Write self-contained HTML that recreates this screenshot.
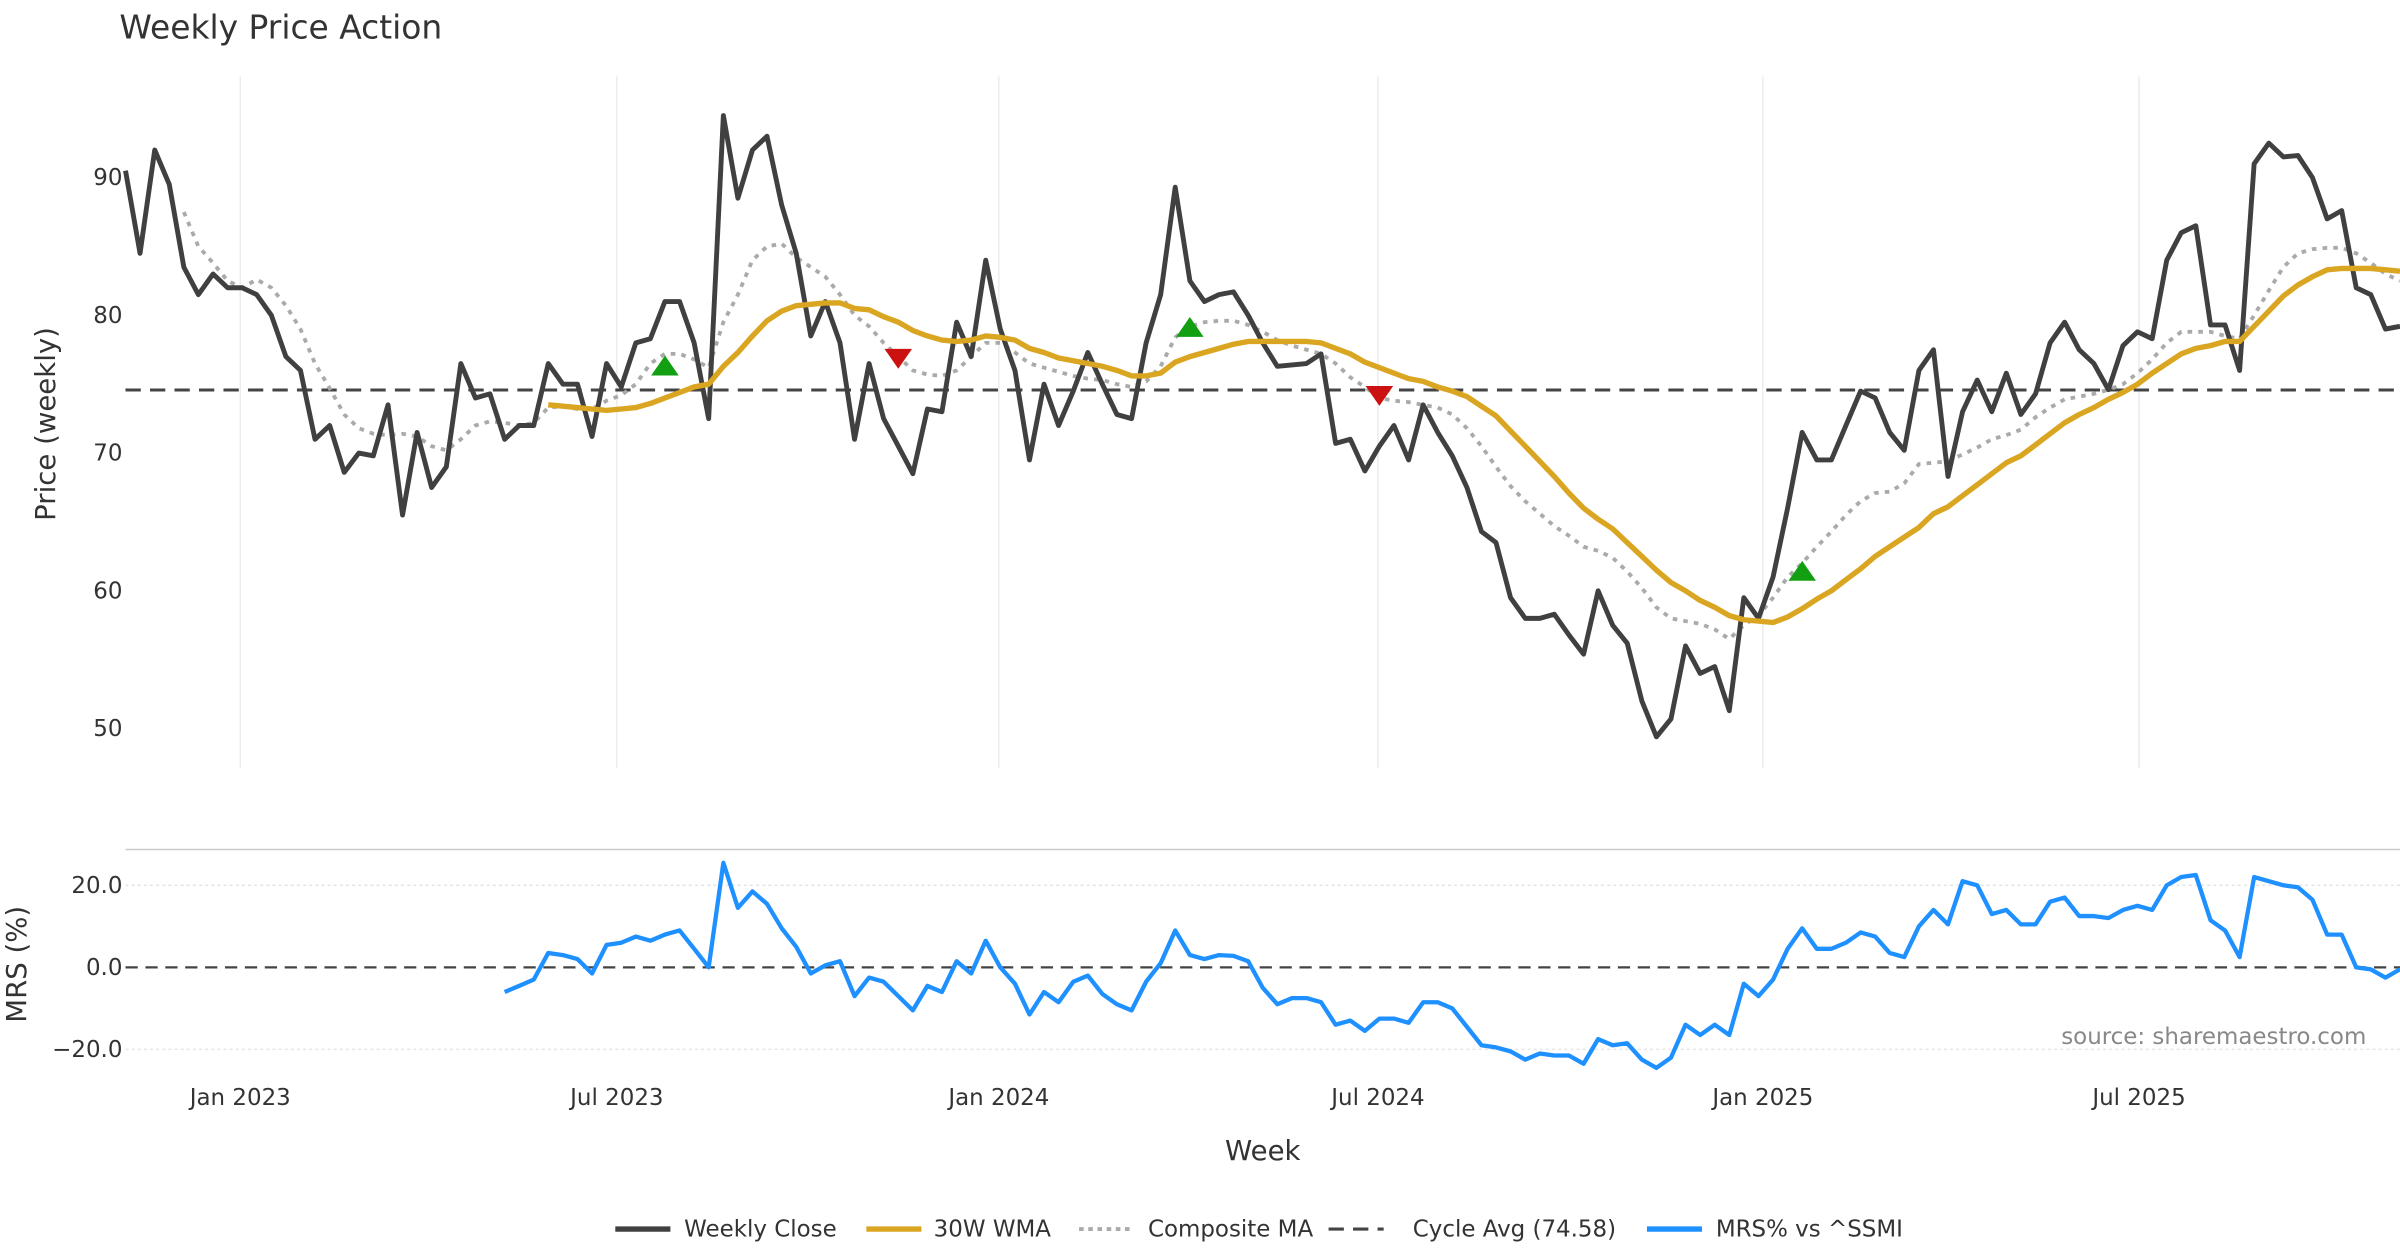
<!DOCTYPE html>
<html><head><meta charset="utf-8"><style>
html,body{margin:0;padding:0;background:#fff;}
svg{display:block;font-family:"DejaVu Sans","Liberation Sans",sans-serif;}
</style></head><body>
<svg id="chart" width="2400" height="1260" viewBox="0 0 1568 823.2" xmlns="http://www.w3.org/2000/svg">
<rect width="1568" height="823.2" fill="#fff"/>
<text x="78" y="25" font-size="21.5" fill="#333">Weekly Price Action</text>
<g id="grid"></g>
<g id="series"></g>
<g id="axes"></g>
<text transform="translate(36,277) rotate(-90)" text-anchor="middle" font-size="18" fill="#333">Price (weekly)</text>
<text transform="translate(17,630) rotate(-90)" text-anchor="middle" font-size="18" fill="#333">MRS (%)</text>
<text x="825" y="758" text-anchor="middle" font-size="18" fill="#333">Week</text>
<text x="1546" y="682" text-anchor="end" font-size="15" fill="#888">source: sharemaestro.com</text>
<g font-size="15" fill="#333">
 <g><line x1="402" y1="803" x2="438" y2="803" stroke="#404040" stroke-width="3.5"/><text x="447" y="808">Weekly Close</text></g>
 <g><line x1="566" y1="803" x2="602" y2="803" stroke="#DAA520" stroke-width="3.5"/><text x="610" y="808">30W WMA</text></g>
 <g><line x1="705" y1="803" x2="741" y2="803" stroke="#aaa" stroke-width="2.5" stroke-dasharray="3,3"/><text x="750" y="808">Composite MA</text></g>
 <g><line x1="868" y1="803" x2="904" y2="803" stroke="#444" stroke-width="2" stroke-dasharray="10,6"/><text x="923" y="808">Cycle Avg (74.58)</text></g>
 <g><line x1="1076" y1="803" x2="1112" y2="803" stroke="#1E90FF" stroke-width="3.5"/><text x="1121" y="808">MRS% vs ^SSMI</text></g>
</g>
</svg>
<script>
const closeVals=[90.5,84.5,92,89.5,83.5,81.5,83,82,82,81.5,80,77,76,71,72,68.6,70,69.8,73.5,65.5,71.5,67.5,69,76.5,74,74.3,71,72,72,76.5,75,75,71.2,76.5,74.8,78,78.3,81,81,78,72.5,94.5,88.5,92,93,88,84.5,78.5,81,78,71,76.5,72.5,70.5,68.5,73.2,73,79.5,77,84,79,76,69.5,75,72,74.5,77.3,75,72.8,72.5,78,81.5,89.3,82.5,81,81.5,81.7,80,78,76.3,76.4,76.5,77.2,70.7,71,68.7,70.5,72,69.5,73.5,71.5,69.8,67.5,64.3,63.5,59.5,58,58,58.3,56.8,55.4,60,57.5,56.2,52,49.4,50.7,56,54,54.5,51.3,59.5,58,61,66,71.5,69.5,69.5,72,74.5,74,71.5,70.2,76,77.5,68.3,73,75.3,73,75.8,72.8,74.3,78,79.5,77.5,76.5,74.6,77.8,78.8,78.3,84,86,86.5,79.3,79.3,76,91,92.5,91.5,91.6,90,87,87.6,82,81.5,79,79.2];
const wmaStart=29;
const wmaVals=[73.5,73.4,73.3,73.2,73.1,73.2,73.3,73.6,74,74.4,74.8,75,76.3,77.3,78.5,79.6,80.3,80.7,80.8,80.9,80.9,80.5,80.4,79.9,79.5,78.9,78.5,78.2,78.1,78.2,78.5,78.4,78.2,77.6,77.3,76.9,76.7,76.5,76.3,76,75.6,75.6,75.8,76.6,77,77.3,77.6,77.9,78.1,78.1,78.1,78.1,78.1,78,77.6,77.2,76.6,76.2,75.8,75.4,75.2,74.8,74.5,74.1,73.4,72.7,71.6,70.5,69.4,68.3,67.1,66,65.2,64.5,63.5,62.5,61.5,60.6,60,59.3,58.8,58.2,57.9,57.8,57.7,58.1,58.7,59.4,60,60.8,61.6,62.5,63.2,63.9,64.6,65.6,66.1,66.9,67.7,68.5,69.3,69.8,70.6,71.4,72.2,72.8,73.3,73.9,74.4,75,75.8,76.5,77.2,77.6,77.8,78.1,78.1,79.2,80.3,81.4,82.2,82.8,83.3,83.4,83.4,83.4,83.3,83.2];
const compStart=4;
const compVals=[87.5,85,83.8,82.5,82,82.6,82,80.7,79,76.5,74.7,72.8,71.8,71.4,71.3,71.4,71.2,70.5,70.2,71,72,72.3,72.2,72,72.2,73.3,73.4,73.2,73.2,73.8,74.2,75,76.5,77.2,77.2,76.8,76.2,79.5,81.5,84,85,85.2,84.2,83.5,82.8,81.5,80,79.2,78,77,76,75.7,75.6,76,77,78,78,77.3,76.5,76.2,75.9,75.6,75.4,75.3,75,74.8,75.2,76.3,78.4,79.2,79.5,79.6,79.6,79.3,78.8,78.2,77.8,77.5,77.2,76.5,75.5,74.8,74,73.8,73.7,73.5,73.3,72.8,71.8,70.5,69,67.6,66.5,65.6,64.7,64,63.2,62.9,62.4,61.4,60.2,58.8,58,57.8,57.6,57.2,56.5,57.5,58.2,59.5,61,62,63.2,64.3,65.5,66.5,67.1,67.2,67.8,69.2,69.3,69.4,69.9,70.4,71,71.3,71.7,72.6,73.3,73.9,74.1,74.3,74.6,75,75.8,76.8,78,78.8,78.8,78.8,78.5,78.3,80,81.8,83.5,84.5,84.8,84.9,84.9,84.5,83.8,83,82.5];
const mrsStart=26;
const mrsVals=[-6,-4.5,-3,3.5,3,2,-1.5,5.5,6,7.5,6.5,8,9,4.5,0,25.5,14.5,18.5,15.5,9.5,5,-1.5,0.5,1.5,-7,-2.5,-3.5,-7,-10.5,-4.5,-6,1.5,-1.5,6.5,0,-4,-11.5,-6,-8.5,-3.5,-2,-6.5,-9,-10.5,-3.5,1,9,3,2,3,2.8,1.5,-5,-9,-7.5,-7.5,-8.5,-14,-13,-15.5,-12.5,-12.5,-13.5,-8.5,-8.5,-10,-14.5,-19,-19.5,-20.5,-22.5,-21,-21.5,-21.5,-23.5,-17.5,-19,-18.5,-22.5,-24.5,-22,-14,-16.5,-14,-16.5,-4,-7,-3,4.5,9.5,4.5,4.5,6,8.5,7.5,3.5,2.5,10,14,10.5,21,20,13,14,10.5,10.5,16,17,12.5,12.5,12,14,15,14,20,22,22.5,11.5,9,2.5,22,21,20,19.5,16.5,8,8,0,-0.5,-2.5,-0.5];
const cycleAvg=74.58;
const markerIdx=[37,53,73,86,115];
const markerVals=[76.3,76.9,79.1,74.2,61.4];
const markerTypes=['buy','sell','buy','sell','buy'];
const xTickIdx=[7.87,33.7,59.9,85.9,112.3,138.1];
const xTickLabels=['Jan 2023','Jul 2023','Jan 2024','Jul 2024','Jan 2025','Jul 2025'];
const yTicks=[50,60,70,80,90];
const mrsTicks=[-20,0,20];

const NS='http://www.w3.org/2000/svg';
const X0=82,X1=1568,N=closeVals.length;
const xs=i=>X0+i*(X1-X0)/(N-1);
const ys=v=>116+(90-v)*9;
const ym=v=>632-v*2.68;
function mk(tag,attrs,parent){const e=document.createElementNS(NS,tag);for(const k in attrs)e.setAttribute(k,attrs[k]);parent.appendChild(e);return e;}
const grid=document.getElementById('grid'),ser=document.getElementById('series'),ax=document.getElementById('axes');
xTickIdx.forEach((t,i)=>{
  const g=mk('line',{x1:xs(t),x2:xs(t),y1:50,y2:502,stroke:'#ececec','stroke-width':1},grid);
  
  
  const tx=mk('text',{x:xs(t),y:722,'text-anchor':'middle','font-size':15,fill:'#333'},ax);
  tx.textContent=xTickLabels[i];
  
  
});
yTicks.forEach(v=>{
  const tx=mk('text',{x:80,y:ys(v)+5,'text-anchor':'end','font-size':15,fill:'#333'},ax);
  tx.textContent=v;
  
  
});
const sep=mk('line',{x1:X0,x2:X1,y1:555,y2:555,stroke:'#ccc','stroke-width':1},grid);


mrsTicks.forEach(v=>{
  if(v!==0){const gl=mk('line',{x1:X0,x2:X1,y1:ym(v),y2:ym(v),stroke:'#e6e6e6','stroke-width':1,'stroke-dasharray':'2,2'},grid);
  
  }
  const tx=mk('text',{x:80,y:ym(v)+5,'text-anchor':'end','font-size':15,fill:'#333'},ax);
  tx.textContent=(v<0?'\u2212'+Math.abs(v).toFixed(1):v.toFixed(1));
  
  
});
function path(vals,start,yf,attrs,name){
  const d=vals.map((v,i)=>(i?'L':'M')+xs(start+i).toFixed(1)+','+yf(v).toFixed(1)).join('');
  const p=mk('path',Object.assign({d:d,fill:'none','stroke-linejoin':'round'},attrs),ser);
  
  
}
const ca=mk('line',{x1:X0,x2:X1,y1:ys(cycleAvg),y2:ys(cycleAvg),stroke:'#444','stroke-width':2,'stroke-dasharray':'10,6'},ser);


const z=mk('line',{x1:X0,x2:X1,y1:ym(0),y2:ym(0),stroke:'#444','stroke-width':1.5,'stroke-dasharray':'8,5'},ser);


path(compVals,compStart,ys,{stroke:'#aaa','stroke-width':2.5,'stroke-dasharray':'3,4'},'composite-ma-line');
path(closeVals,0,ys,{stroke:'#404040','stroke-width':3.2},'weekly-close-line');
path(wmaVals,wmaStart,ys,{stroke:'#DAA520','stroke-width':3.5},'wma-30w-line');
path(mrsVals,mrsStart,ym,{stroke:'#1E90FF','stroke-width':2.8},'mrs-line');
markerIdx.forEach((mi,i)=>{
  const x=xs(mi),y=ys(markerVals[i]);
  const pts=markerTypes[i]==='buy'?`${x-9},${y+6} ${x+9},${y+6} ${x},${y-7}`:`${x-9},${y-6} ${x+9},${y-6} ${x},${y+7}`;
  const m=mk('polygon',{points:pts,fill:markerTypes[i]==='buy'?'#12A012':'#CC1111'},ser);
  
  
});
</script>
</body></html>
